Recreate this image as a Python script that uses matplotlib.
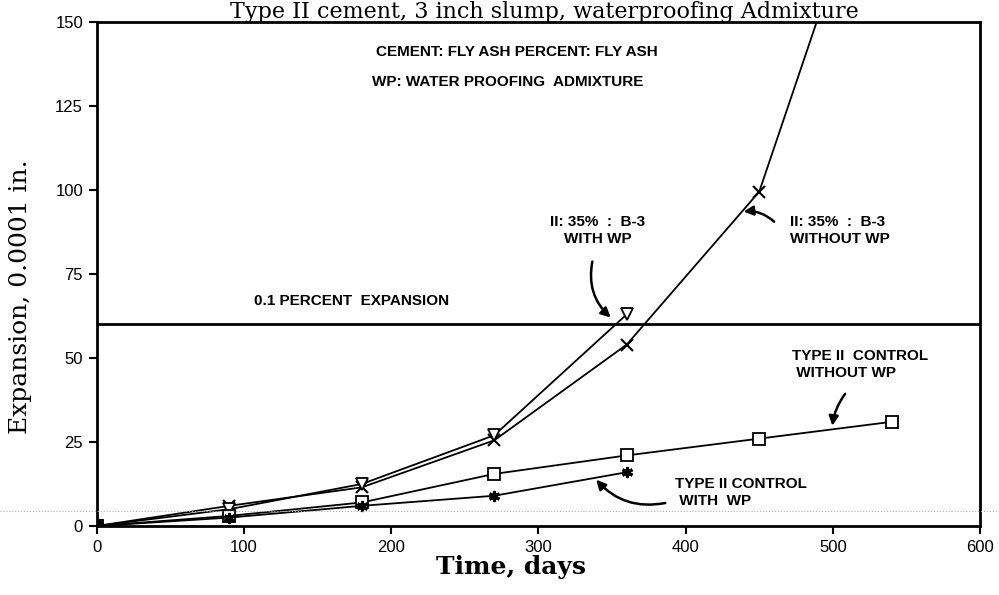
import matplotlib.pyplot as plt
from matplotlib.lines import Line2D

# data (days, expansion in 0.0001 in.)
days_long = [0, 90, 180, 270, 360, 450, 540]
days_short = [0, 90, 180, 270, 360]

b3_without_wp = [0, 6, 11.5, 25.5, 54, 99.5, 216]   # last point runs off the top
b3_with_wp = [0, 5, 12.5, 27, 63]
control_without_wp = [0, 3, 7, 15.5, 21, 26, 31]
control_with_wp = [0, 2.5, 6, 9, 16]

limit_line = 60  # 0.1 percent expansion

x_ticks = [0, 100, 200, 300, 400, 500, 600]
y_ticks = [0, 25, 50, 75, 100, 125, 150]

sans = 'Liberation Sans'
serif = 'DejaVu Serif'

fig = plt.figure(figsize=(9.99, 5.95), dpi=100)
ax = fig.add_axes([0.097, 0.116, 0.884, 0.847])

# curves
ax.plot(days_long, b3_without_wp, color='black', lw=1.3, marker='x',
        ms=9, mew=1.5)
ax.plot(days_short, b3_with_wp, color='black', lw=1.3, marker='v',
        ms=9, mfc='white', mew=1.3)
ax.plot(days_long, control_without_wp, color='black', lw=1.3, marker='s',
        ms=8, mfc='white', mew=1.3)
ax.plot(days_short, control_with_wp, color='black', lw=1.3, marker=(6, 2, 0),
        ms=8, mew=2.2)
ax.plot([0], [0], 'o', color='black', ms=9)

# 0.1 percent line
ax.axhline(limit_line, color='black', lw=2)

ax.set_xlim(0, 600)
ax.set_ylim(0, 150)
ax.set_xticks(x_ticks)
ax.set_yticks(y_ticks)
ax.tick_params(direction='out', length=6, width=1.5, labelsize=12, pad=4)
for lab in ax.get_xticklabels() + ax.get_yticklabels():
    lab.set_fontfamily(sans)
for sp in ax.spines.values():
    sp.set_linewidth(2)

ax.set_xlabel('Time, days', fontfamily=serif, fontsize=18, fontweight='bold',
              va='center')
ax.set_ylabel('Expansion, 0.0001 in.', fontfamily=serif, fontsize=18,
              va='center')
ax.xaxis.set_label_coords(0.469, -0.081)
ax.yaxis.set_label_coords(-0.087, 0.454)

# title (the scan crops it at the top edge)
fig.text(0.545, 0.999, 'Type II cement, 3 inch slump, waterproofing Admixture',
         fontfamily=serif, fontsize=16, ha='center', va='top')

# notes
note = dict(fontfamily=sans, fontsize=11, fontweight='bold')
ax.text(285, 141, 'CEMENT: FLY ASH PERCENT: FLY ASH', ha='center',
        va='center', **note)
ax.text(279, 132, 'WP: WATER PROOFING  ADMIXTURE', ha='center',
        va='center', **note)
ax.text(107, 67, '0.1 PERCENT  EXPANSION', ha='left', va='center', **note)

ax.text(340, 88, 'II: 35%  :  B-3\nWITH WP', ha='center', va='center',
        multialignment='center', linespacing=1.3, **note)
ax.text(471, 88, 'II: 35%  :  B-3\nWITHOUT WP', ha='left', va='center',
        linespacing=1.3, **note)
ax.text(472, 48, 'TYPE II  CONTROL\n WITHOUT WP', ha='left', va='center',
        linespacing=1.3, **note)
ax.text(393, 10, 'TYPE II CONTROL\n WITH  WP', ha='left', va='center',
        linespacing=1.3, **note)

arrow = dict(arrowstyle='-|>', color='black', lw=1.8, mutation_scale=14)
ax.annotate('', xy=(350.5, 61.5), xytext=(337, 79.5),
            arrowprops=dict(connectionstyle='arc3,rad=0.3', **arrow))
ax.annotate('', xy=(437.5, 93.5), xytext=(461.5, 90),
            arrowprops=dict(connectionstyle='arc3,rad=0.25', **arrow))
ax.annotate('', xy=(499.5, 29), xytext=(509.5, 40),
            arrowprops=dict(connectionstyle='arc3,rad=0.15', **arrow))
ax.annotate('', xy=(338, 14.4), xytext=(388, 7),
            arrowprops=dict(connectionstyle='arc3,rad=-0.3', **arrow))

# faint dotted scan line
fig.add_artist(Line2D([0, 1], [1 - 511 / 595] * 2, transform=fig.transFigure,
                      color='#b0b0b0', lw=0.8, ls=':'))

plt.savefig('out.png', dpi=100)
